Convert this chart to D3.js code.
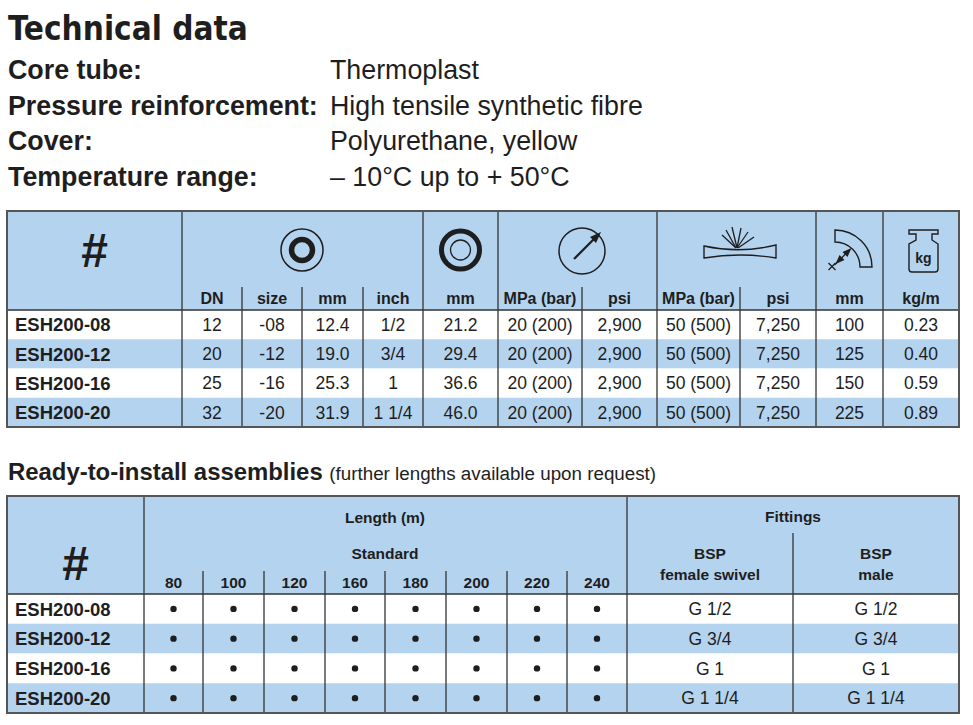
<!DOCTYPE html>
<html lang="en">
  <head>
    <meta charset="UTF-8" />
    <title>Technical data</title>
    <script src="https://d3js.org/d3.v7.min.js"></script>
    <style>
      body {
        margin: 0;
        background: #fff;
      }
      svg {
        display: block;
        font-family: "Liberation Sans", Arial, Helvetica, sans-serif;
      }
    </style>
  </head>
  <body>
    <svg id="chart" width="973" height="725"></svg>

    <script>
      // ---- data ----
      const specLabels = ["Core tube:", "Pressure reinforcement:", "Cover:", "Temperature range:"];
      const specValues = ["Thermoplast", "High tensile synthetic fibre", "Polyurethane, yellow", "\u2013 10°C up to + 50°C"];

      const hoseIds = ["ESH200-08", "ESH200-12", "ESH200-16", "ESH200-20"];
      const dn = ["12", "20", "25", "32"];
      const sizeCode = ["-08", "-12", "-16", "-20"];
      const idMm = ["12.4", "19.0", "25.3", "31.9"];
      const idInch = ["1/2", "3/4", "1", "1 1/4"];
      const odMm = ["21.2", "29.4", "36.6", "46.0"];
      const workMpa = ["20 (200)", "20 (200)", "20 (200)", "20 (200)"];
      const workPsi = ["2,900", "2,900", "2,900", "2,900"];
      const burstMpa = ["50 (500)", "50 (500)", "50 (500)", "50 (500)"];
      const burstPsi = ["7,250", "7,250", "7,250", "7,250"];
      const bendMm = ["100", "125", "150", "225"];
      const weightKgM = ["0.23", "0.40", "0.59", "0.89"];
      const techSubHeaders = ["DN", "size", "mm", "inch", "mm", "MPa (bar)", "psi", "MPa (bar)", "psi", "mm", "kg/m"];

      const lengths = ["80", "100", "120", "160", "180", "200", "220", "240"];
      const available = [
        [1, 1, 1, 1, 1, 1, 1, 1],
        [1, 1, 1, 1, 1, 1, 1, 1],
        [1, 1, 1, 1, 1, 1, 1, 1],
        [1, 1, 1, 1, 1, 1, 1, 1],
      ];
      const fittingFemale = ["G 1/2", "G 3/4", "G 1", "G 1 1/4"];
      const fittingMale = ["G 1/2", "G 3/4", "G 1", "G 1 1/4"];

      // ---- layout ----
      const blue = "#b4d3ef";
      const ink = "#1e1e1e";
      const lineCol = "#333";
      const borderCol = "#555";

      const svg = d3.select("#chart");
      svg.append("rect").attr("width", 973).attr("height", 725).attr("fill", "#fff");

      // title + specs
      svg
        .append("text")
        .attr("x", 8)
        .attr("y", 40)
        .attr("font-family", "'DejaVu Sans Condensed', 'DejaVu Sans', sans-serif")
        .attr("font-weight", "bold")
        .attr("font-size", 33)
        .attr("fill", ink)
        .text("Technical data");

      const ySpec = d3.scalePoint().domain(specLabels).range([79, 186]);
      const spec = svg.append("g").attr("font-size", 26.8).attr("fill", ink);
      spec
        .selectAll("text.lbl")
        .data(specLabels)
        .join("text")
        .attr("class", "lbl")
        .attr("x", 8)
        .attr("y", (d) => ySpec(d))
        .attr("font-weight", "bold")
        .text((d) => d);
      spec
        .selectAll("text.val")
        .data(specValues)
        .join("text")
        .attr("class", "val")
        .attr("x", 330)
        .attr("y", (d, i) => ySpec(specLabels[i]))
        .text((d) => d);

      // ---- technical table ----
      const t1Edges = [7, 182, 242, 302, 363, 423, 498, 582, 657, 740, 816, 883, 959];
      const t1Top = 211,
        t1SubTop = 287,
        t1Head = 310,
        t1Bottom = 427;
      const x1 = d3.scaleLinear().domain(d3.range(t1Edges.length)).range(t1Edges);
      const y1 = d3.scaleBand().domain(hoseIds).range([t1Head, t1Bottom]);
      const t1 = svg.append("g");

      t1.append("rect")
        .attr("x", x1(0))
        .attr("y", t1Top)
        .attr("width", x1(12) - x1(0))
        .attr("height", t1Head - t1Top)
        .attr("fill", blue);
      t1.selectAll("rect.row")
        .data(hoseIds)
        .join("rect")
        .attr("class", "row")
        .attr("x", x1(0))
        .attr("y", (d) => y1(d))
        .attr("width", x1(12) - x1(0))
        .attr("height", y1.bandwidth())
        .attr("fill", (d, i) => (i % 2 ? blue : "#fff"));

      const t1Full = [1, 5, 6, 8, 10, 11];
      const t1Part = [2, 3, 4, 7, 9];
      t1.selectAll("line.full")
        .data(t1Full)
        .join("line")
        .attr("x1", (d) => x1(d))
        .attr("x2", (d) => x1(d))
        .attr("y1", t1Top)
        .attr("y2", t1Bottom)
        .attr("stroke", lineCol)
        .attr("stroke-width", 1.3);
      t1.selectAll("line.part")
        .data(t1Part)
        .join("line")
        .attr("x1", (d) => x1(d))
        .attr("x2", (d) => x1(d))
        .attr("y1", t1SubTop)
        .attr("y2", t1Bottom)
        .attr("stroke", lineCol)
        .attr("stroke-width", 1.3);
      t1.append("line")
        .attr("x1", x1(0))
        .attr("x2", x1(12))
        .attr("y1", t1Head)
        .attr("y2", t1Head)
        .attr("stroke", lineCol)
        .attr("stroke-width", 1.5);
      t1.append("rect")
        .attr("x", x1(0))
        .attr("y", t1Top)
        .attr("width", x1(12) - x1(0))
        .attr("height", t1Bottom - t1Top)
        .attr("fill", "none")
        .attr("stroke", borderCol)
        .attr("stroke-width", 2);

      t1.append("text")
        .attr("x", x1(0.5))
        .attr("y", 267)
        .attr("text-anchor", "middle")
        .attr("font-weight", "bold")
        .attr("font-size", 48)
        .attr("fill", ink)
        .text("#");

      t1.selectAll("text.sub")
        .data(techSubHeaders)
        .join("text")
        .attr("class", "sub")
        .attr("x", (d, i) => x1(i + 1.5))
        .attr("y", 304)
        .attr("text-anchor", "middle")
        .attr("font-weight", "bold")
        .attr("font-size", 16)
        .attr("fill", ink)
        .text((d) => d);

      t1.selectAll("text.id")
        .data(hoseIds)
        .join("text")
        .attr("class", "id")
        .attr("x", x1(0) + 8)
        .attr("y", (d) => y1(d) + y1.bandwidth() / 2)
        .attr("dy", "0.36em")
        .attr("font-weight", "bold")
        .attr("font-size", 18.5)
        .attr("fill", ink)
        .text((d) => d);

      const t1Columns = [dn, sizeCode, idMm, idInch, odMm, workMpa, workPsi, burstMpa, burstPsi, bendMm, weightKgM];
      t1Columns.forEach((col, c) => {
        t1.selectAll(null)
          .data(col)
          .join("text")
          .attr("x", x1(c + 1.5))
          .attr("y", (d, i) => y1(hoseIds[i]) + y1.bandwidth() / 2)
          .attr("dy", "0.36em")
          .attr("text-anchor", "middle")
          .attr("font-size", 17.5)
          .attr("fill", ink)
          .text((d) => d);
      });

      // header icons
      const iconY = 250;
      const icon = (a, b) => t1.append("g").attr("transform", `translate(${x1((a + b) / 2)},${iconY})`).attr("fill", "none").attr("stroke", ink);

      // inner diameter
      const g1 = icon(1, 5);
      g1.append("circle").attr("r", 21).attr("stroke-width", 1.5);
      g1.append("circle").attr("r", 10.5).attr("stroke-width", 5.5);

      // outer diameter
      const g2 = icon(5, 6);
      g2.append("circle").attr("r", 19).attr("stroke-width", 5);
      g2.append("circle").attr("r", 10).attr("stroke-width", 1.3);

      // working pressure gauge
      const g3 = icon(6, 8);
      g3.append("circle").attr("cy", 1).attr("r", 23).attr("stroke-width", 1.5);
      g3.append("line").attr("x1", -8).attr("y1", 9).attr("x2", 12).attr("y2", -11).attr("stroke-width", 2.2);
      g3.append("path").attr("d", "M19,-18 L8,-13 L14,-7 Z").attr("fill", ink).attr("stroke", "none");

      // burst pressure
      const g4 = icon(8, 10);
      g4.append("path").attr("d", "M-36,-4 Q0,4 36,-5 L36,8 Q0,2 -36,8 Z").attr("stroke-width", 1.4);
      const spray = [
        [-4, -18, -15],
        [-4, -14, -20],
        [-3, -8, -23],
        [-3, 1, -22],
        [-3, 8, -18],
        [-2, 14, -13],
      ];
      g4.selectAll("line")
        .data(spray)
        .join("line")
        .attr("x1", (d) => d[0])
        .attr("y1", -2)
        .attr("x2", (d) => d[1])
        .attr("y2", (d) => d[2])
        .attr("stroke-width", 1.3);

      // bend radius
      const g5 = icon(10, 11);
      const bendArc = d3.arc().innerRadius(25).outerRadius(37).startAngle(0).endAngle(Math.PI / 2);
      g5.append("path").attr("transform", "translate(-14.5,17)").attr("d", bendArc()).attr("stroke-width", 1.4);
      g5.append("line").attr("x1", -15).attr("y1", 15).attr("x2", -1).attr("y2", 1).attr("stroke-width", 1.3);
      g5.append("path").attr("d", "M2,-2 L-7,2 L-2,7 Z").attr("fill", ink).attr("stroke", "none");
      g5.append("path").attr("d", "M-14,14 L-10,5 L-5,10 Z").attr("fill", ink).attr("stroke", "none");
      g5.append("path").attr("d", "M-21,13 L-14,20 M-21,20 L-14,13").attr("stroke-width", 1.3);

      // weight
      const g6 = icon(11, 12);
      g6.append("path")
        .attr("d", "M-12,-20 H17 V-16 H11 V-10 L17,-6 V19 Q17,22 14,22 H-9 Q-12,22 -12,19 V-6 L-5,-10 V-16 H-12 Z")
        .attr("stroke-width", 1.4);
      g6.append("text")
        .attr("x", 2.5)
        .attr("y", 13)
        .attr("text-anchor", "middle")
        .attr("font-size", 14)
        .attr("font-weight", "bold")
        .attr("fill", ink)
        .attr("stroke", "none")
        .text("kg");

      // ---- assemblies table ----
      const heading = svg.append("text").attr("x", 8).attr("y", 480).attr("fill", ink);
      heading.append("tspan").attr("font-weight", "bold").attr("font-size", 23.9).text("Ready-to-install assemblies ");
      heading.append("tspan").attr("font-size", 18.8).text("(further lengths available upon request)");

      const t2Edges = [7, 144, 203, 264, 325, 385, 446, 507, 567, 627, 793, 959];
      const t2Top = 496,
        t2Head = 594,
        t2Bottom = 713;
      const x2 = d3.scaleLinear().domain(d3.range(t2Edges.length)).range(t2Edges);
      const y2 = d3.scaleBand().domain(hoseIds).range([t2Head, t2Bottom]);
      const t2 = svg.append("g");

      t2.append("rect")
        .attr("x", x2(0))
        .attr("y", t2Top)
        .attr("width", x2(11) - x2(0))
        .attr("height", t2Head - t2Top)
        .attr("fill", blue);
      t2.selectAll("rect.row")
        .data(hoseIds)
        .join("rect")
        .attr("class", "row")
        .attr("x", x2(0))
        .attr("y", (d) => y2(d))
        .attr("width", x2(11) - x2(0))
        .attr("height", y2.bandwidth())
        .attr("fill", (d, i) => (i % 2 ? blue : "#fff"));

      const t2Lines = [
        [1, t2Top],
        [9, t2Top],
        [10, 533],
        [2, 571],
        [3, 571],
        [4, 571],
        [5, 571],
        [6, 571],
        [7, 571],
        [8, 571],
      ];
      t2.selectAll("line.v")
        .data(t2Lines)
        .join("line")
        .attr("x1", (d) => x2(d[0]))
        .attr("x2", (d) => x2(d[0]))
        .attr("y1", (d) => d[1])
        .attr("y2", t2Bottom)
        .attr("stroke", lineCol)
        .attr("stroke-width", 1.3);
      t2.append("line")
        .attr("x1", x2(0))
        .attr("x2", x2(11))
        .attr("y1", t2Head)
        .attr("y2", t2Head)
        .attr("stroke", lineCol)
        .attr("stroke-width", 1.5);
      t2.append("rect")
        .attr("x", x2(0))
        .attr("y", t2Top)
        .attr("width", x2(11) - x2(0))
        .attr("height", t2Bottom - t2Top)
        .attr("fill", "none")
        .attr("stroke", borderCol)
        .attr("stroke-width", 2);

      const hdr = t2.append("g").attr("font-weight", "bold").attr("font-size", 15.5).attr("fill", ink).attr("text-anchor", "middle");
      hdr.append("text").attr("x", x2(0.5)).attr("y", 580).attr("font-size", 48).text("#");
      hdr.append("text").attr("x", x2(5)).attr("y", 523).text("Length (m)");
      hdr.append("text").attr("x", x2(5)).attr("y", 559).text("Standard");
      hdr.append("text").attr("x", x2(10)).attr("y", 522).text("Fittings");
      hdr.append("text").attr("x", x2(9.5)).attr("y", 559).text("BSP");
      hdr.append("text").attr("x", x2(9.5)).attr("y", 580).text("female swivel");
      hdr.append("text").attr("x", x2(10.5)).attr("y", 559).text("BSP");
      hdr.append("text").attr("x", x2(10.5)).attr("y", 580).text("male");
      hdr.selectAll("text.len")
        .data(lengths)
        .join("text")
        .attr("class", "len")
        .attr("x", (d, i) => x2(i + 1.5))
        .attr("y", 588)
        .text((d) => d);

      t2.selectAll("text.id")
        .data(hoseIds)
        .join("text")
        .attr("class", "id")
        .attr("x", x2(0) + 8)
        .attr("y", (d) => y2(d) + y2.bandwidth() / 2)
        .attr("dy", "0.36em")
        .attr("font-weight", "bold")
        .attr("font-size", 18.5)
        .attr("fill", ink)
        .text((d) => d);

      const dots = [];
      available.forEach((row, r) => row.forEach((v, c) => v && dots.push({ r, c })));
      t2.selectAll("circle.dot")
        .data(dots)
        .join("circle")
        .attr("class", "dot")
        .attr("cx", (d) => x2(d.c + 1.5))
        .attr("cy", (d) => y2(hoseIds[d.r]) + y2.bandwidth() / 2)
        .attr("r", 3.2)
        .attr("fill", ink);

      [fittingFemale, fittingMale].forEach((col, c) => {
        t2.selectAll(null)
          .data(col)
          .join("text")
          .attr("x", x2(c + 9.5))
          .attr("y", (d, i) => y2(hoseIds[i]) + y2.bandwidth() / 2)
          .attr("dy", "0.36em")
          .attr("text-anchor", "middle")
          .attr("font-size", 17.5)
          .attr("fill", ink)
          .text((d) => d);
      });
    </script>
  </body>
</html>
